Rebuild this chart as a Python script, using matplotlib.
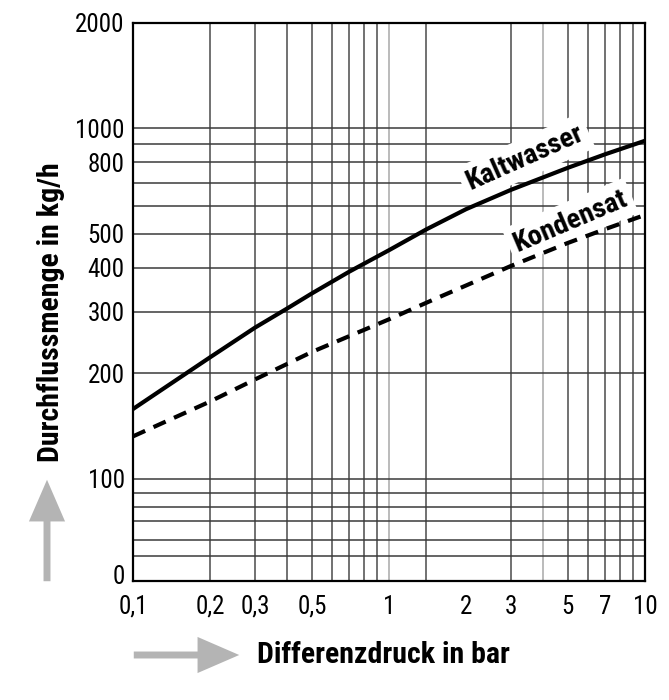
import matplotlib.pyplot as plt
from matplotlib import font_manager as fm
from matplotlib.ticker import FixedLocator, NullLocator

# schmale Schrift suchen, sonst Liberation Sans
names = {f.name for f in fm.fontManager.ttflist}
font = 'Liberation Sans'
stretch = 'normal'
for cand in ['Liberation Sans Narrow', 'Roboto Condensed', 'Open Sans Condensed',
             'Noto Sans Condensed', 'DejaVu Sans Condensed', 'Arial Narrow']:
    if cand in names:
        font = cand
        break
else:
    cond = [f for f in fm.fontManager.ttflist
            if f.stretch in ('condensed', 'semi-condensed')
            and f.name in ('Noto Sans', 'Roboto', 'Open Sans', 'DejaVu Sans', 'Lato', 'Inter')]
    if cond:
        font = cond[0].name
        stretch = 'condensed'
plt.rcParams['font.family'] = [font, 'DejaVu Sans']
plt.rcParams['font.stretch'] = stretch

# Werte
kalt_x = [0.1, 0.2, 0.3, 0.4, 0.5, 0.7, 1.0, 1.4, 2.0, 3.0, 5.0, 7.0, 10.0]
kalt_y = [158, 222, 270, 306, 338, 390, 449, 515, 588, 668, 772, 844, 922]

kond_x = [0.1, 0.2, 0.3, 0.5, 1.0, 1.5, 2.0, 3.0, 5.0, 7.0, 10.0]
kond_y = [132, 166, 192, 230, 285, 325, 356, 405, 471, 516, 566]

x_ticks = [0.1, 0.2, 0.3, 0.5, 1, 2, 3, 5, 7, 10]
x_labels = ['0,1', '0,2', '0,3', '0,5', '1', '2', '3', '5', '7', '10']
y_bottom = 51   # unterer Rand, im Original mit "0" beschriftet
y_ticks = [100, 200, 300, 400, 500, 800, 1000, 2000]
y_labels = ['100', '200', '300', '400', '500', '800', '1000', '2000']

x_grid = [0.2, 0.3, 0.4, 0.5, 0.6, 0.7, 0.8, 0.9, 1.0, 1.4, 3, 4, 5, 6, 7, 8, 9]
x_grid_light = [1.0, 4]
y_grid = [60, 67, 75.5, 83, 91, 100, 200, 300, 400, 500, 600, 700, 800, 900, 1000]

fig = plt.figure(figsize=(6.69, 7.0), dpi=100)
ax = fig.add_axes([133/669, 1-581/700, 512/669, 558/700])
ax.set_xscale('log')
ax.set_yscale('log')
ax.set_xlim(0.1, 10)
ax.set_ylim(y_bottom, 2000)

# Gitter
for gx in x_grid:
    c = '#a8a8a8' if gx in x_grid_light else '#4a4a4a'
    ax.axvline(gx, color=c, lw=1.1, zorder=1)
for gy in y_grid:
    ax.axhline(gy, color='#3a3a3a', lw=1.1, zorder=1)

ax.plot(kalt_x, kalt_y, color='black', lw=3.0, zorder=5, solid_joinstyle='round')
ax.plot(kond_x, kond_y, color='black', lw=3.0, zorder=5, dashes=(3.2, 2.2))

ax.text(0.766, 0.758, 'Kaltwasser', transform=ax.transAxes, rotation=24,
        ha='center', va='center', fontsize=20.5, fontweight='bold', zorder=4,
        bbox=dict(facecolor='white', edgecolor='none', pad=4))
ax.text(0.854, 0.645, 'Kondensat', transform=ax.transAxes, rotation=23,
        ha='center', va='center', fontsize=20.5, fontweight='bold', zorder=4,
        bbox=dict(facecolor='white', edgecolor='none', pad=4))

ax.xaxis.set_major_locator(FixedLocator(x_ticks))
ax.xaxis.set_minor_locator(NullLocator())
ax.set_xticklabels(x_labels)
ax.yaxis.set_major_locator(FixedLocator(y_ticks))
ax.yaxis.set_minor_locator(NullLocator())
ax.set_yticklabels(y_labels)
ax.tick_params(axis='both', length=0, labelsize=18)
ax.tick_params(axis='x', pad=10)
ax.tick_params(axis='y', pad=6)

# die "0" am unteren Rand, leicht angehoben
ax.annotate('0', xy=(0, y_bottom), xycoords=('axes fraction', 'data'),
            xytext=(-6, 3), textcoords='offset points',
            ha='right', va='center', fontsize=18)

for s in ax.spines.values():
    s.set_linewidth(1.6)
    s.set_zorder(6)

# Achsenbeschriftung mit grauen Pfeilen
fig.text(51/669, 1-312/700, 'Durchflussmenge in kg/h', rotation=90,
         ha='center', va='center', fontsize=21.5, fontweight='bold')
fig.text(383/669, 1-655/700, 'Differenzdruck in bar',
         ha='center', va='center', fontsize=21.5, fontweight='bold')

arrow = dict(arrowstyle='simple,head_length=1.5,head_width=1.3,tail_width=0.25',
             color='#b4b4b4', lw=0, mutation_scale=20)
ax.annotate('', xy=(47, 700-477), xytext=(47, 700-584),
            xycoords='figure pixels', textcoords='figure pixels', arrowprops=arrow)
ax.annotate('', xy=(242, 700-655), xytext=(131, 700-655),
            xycoords='figure pixels', textcoords='figure pixels', arrowprops=arrow)

fig.savefig('out.png', dpi=100)
